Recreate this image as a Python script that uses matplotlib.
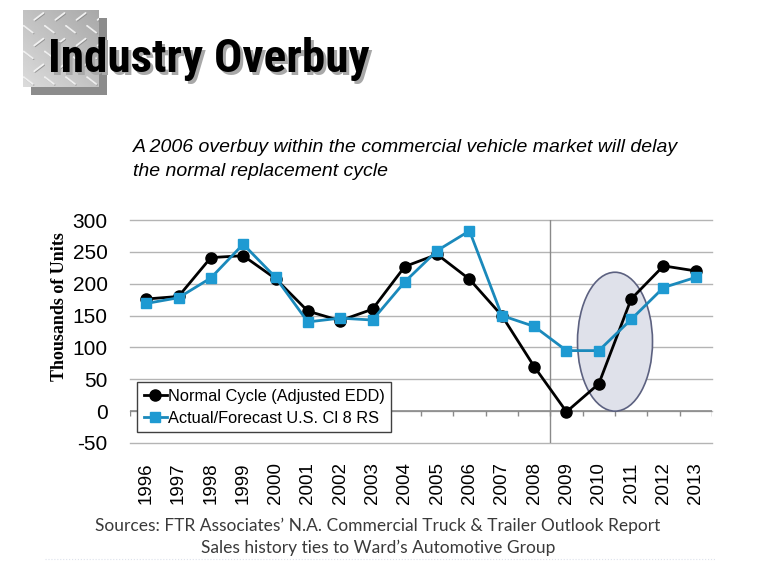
import matplotlib.pyplot as plt
import numpy as np
from matplotlib.patches import Ellipse

years = [str(y) for y in range(1996, 2014)]
normal_cycle = [176, 180, 241, 244, 208, 157, 142, 160, 227, 246,
                207, 150, 70, -1, 43, 176, 228, 220]
actual_forecast = [169, 178, 209, 262, 210, 140, 146, 143, 203, 252,
                   283, 150, 133, 95, 95, 144, 194, 210]
y_ticks = [-50, 0, 50, 100, 150, 200, 250, 300]

W, H = 780, 585
fig = plt.figure(figsize=(W / 100, H / 100), dpi=100)
fig.patch.set_facecolor("white")


def fx(px):
    return px / W


def fy(py):
    return 1 - py / H


# ---- title plate (diamond plate square with shadow) ----
shadow = fig.add_axes([fx(31), fy(95), fx(76), 77 / H], zorder=1)
shadow.set_facecolor("#8c8c8c")
shadow.set_xticks([])
shadow.set_yticks([])
for sp in shadow.spines.values():
    sp.set_visible(False)

plate = fig.add_axes([fx(23), fy(87), fx(76), 77 / H], zorder=2)
grad = np.linspace(0, 1, 64)
img = 0.66 + 0.2 * (np.add.outer(grad, grad[::-1]) / 2)
plate.imshow(img, cmap="gray", vmin=0, vmax=1, extent=(0, 1, 0, 1), aspect="auto")
for j in range(6):
    for i in range(4):
        cx = (i + 0.25 + 0.5 * (j % 2)) / 3.6
        cy = (j + 0.5) / 6
        if j % 2 == 0:
            dx, dy = 0.06, -0.045
        else:
            dx, dy = 0.06, 0.045
        plate.plot([cx - dx + 0.012, cx + dx + 0.012], [cy - dy - 0.012, cy + dy - 0.012],
                   color="#808080", lw=1.0, alpha=0.7, solid_capstyle="round")
        plate.plot([cx - dx, cx + dx], [cy - dy, cy + dy], color="#f4f4f4", lw=1.3,
                   alpha=0.95, solid_capstyle="round")
plate.set_xlim(0, 1)
plate.set_ylim(0, 1)
plate.axis("off")

title_kw = dict(fontsize=34, fontweight="heavy", fontstretch="condensed",
                family=["DejaVu Sans Condensed", "Liberation Sans Narrow", "Roboto Condensed",
                        "Open Sans Condensed", "Noto Sans Condensed", "DejaVu Sans"],
                va="center", ha="left", zorder=5)
fig.text(fx(51), fy(62), "Industry Overbuy", color="#a8a8a8", **title_kw)
fig.text(fx(48), fy(59), "Industry Overbuy", color="black", **title_kw)

fig.text(fx(133), fy(147), "A 2006 overbuy within the commercial vehicle market will delay",
         fontsize=14, style="italic", family="Liberation Sans", va="center")
fig.text(fx(133), fy(171), "the normal replacement cycle",
         fontsize=14, style="italic", family="Liberation Sans", va="center")

# ---- chart ----
ax = fig.add_axes([fx(130), fy(443), fx(712 - 130), (443 - 220) / H])
x = np.arange(len(years))

for yt in y_ticks:
    ax.axhline(yt, color="#b4b4b4", lw=1.0, zorder=1, clip_on=False)
ax.axhline(0, color="#8a8a8a", lw=1.2, zorder=1)
bounds = np.arange(len(years) + 1) - 0.5
ax.vlines(bounds, -8, 0, color="#8a8a8a", lw=1.0, zorder=1)
ax.axvline(years.index("2008") + 0.5, color="#8a8a8a", lw=1.0, zorder=1)

ax.add_patch(Ellipse((years.index("2010") + 0.5, 109), 2.32, 218,
                     facecolor="#dfe1ea", edgecolor="#5c6180", lw=1.2, zorder=2))

ax.plot(x, normal_cycle, color="black", lw=2, marker="o", ms=8,
        label="Normal Cycle (Adjusted EDD)", zorder=3)
ax.plot(x, actual_forecast, color="#1a89bb", lw=2, marker="s", ms=7,
        markerfacecolor="#1e9ad2", markeredgecolor="#1e9ad2",
        label="Actual/Forecast U.S. Cl 8 RS", zorder=4)

ax.set_xlim(-0.5, len(years) - 0.5)
ax.set_ylim(-50, 300)
ax.set_yticks(y_ticks)
ax.set_yticklabels([str(v) for v in y_ticks], family="Liberation Sans", fontsize=15)
ax.set_xticks(x)
ax.set_xticklabels(years, rotation=90, family="Liberation Sans", fontsize=13.5)
ax.tick_params(axis="both", length=0)
ax.tick_params(axis="y", pad=16)
ax.tick_params(axis="x", pad=14)
for sp in ax.spines.values():
    sp.set_visible(False)

ax.set_ylabel("Thousands of Units", family="Liberation Serif", fontweight="bold", fontsize=13)
ax.yaxis.set_label_coords(-0.107, 0.614)

leg = ax.legend(loc="upper left", bbox_to_anchor=(fx(137), fy(382)),
                bbox_transform=fig.transFigure, prop={"family": "Liberation Sans", "size": 11.8},
                frameon=True, fancybox=False, framealpha=1, edgecolor="#404040",
                handlelength=1.4, handletextpad=0.1, borderpad=0.4, labelspacing=0.45,
                borderaxespad=0)
leg.get_frame().set_linewidth(1.0)

fig.text(fx(378), fy(526), "Sources: FTR Associates\u2019 N.A. Commercial Truck & Trailer Outlook Report",
         fontsize=12.5, family="Lato", color="#3a3a3a", ha="center", va="center")
fig.text(fx(378), fy(548), "Sales history ties to Ward\u2019s Automotive Group",
         fontsize=12.5, family="Lato", color="#3a3a3a", ha="center", va="center")
fig.add_artist(plt.Line2D([fx(45), fx(715)], [fy(559), fy(559)], color="#dde2ec",
                          lw=0.8, ls=":", transform=fig.transFigure))

fig.savefig("out.png", dpi=100)
